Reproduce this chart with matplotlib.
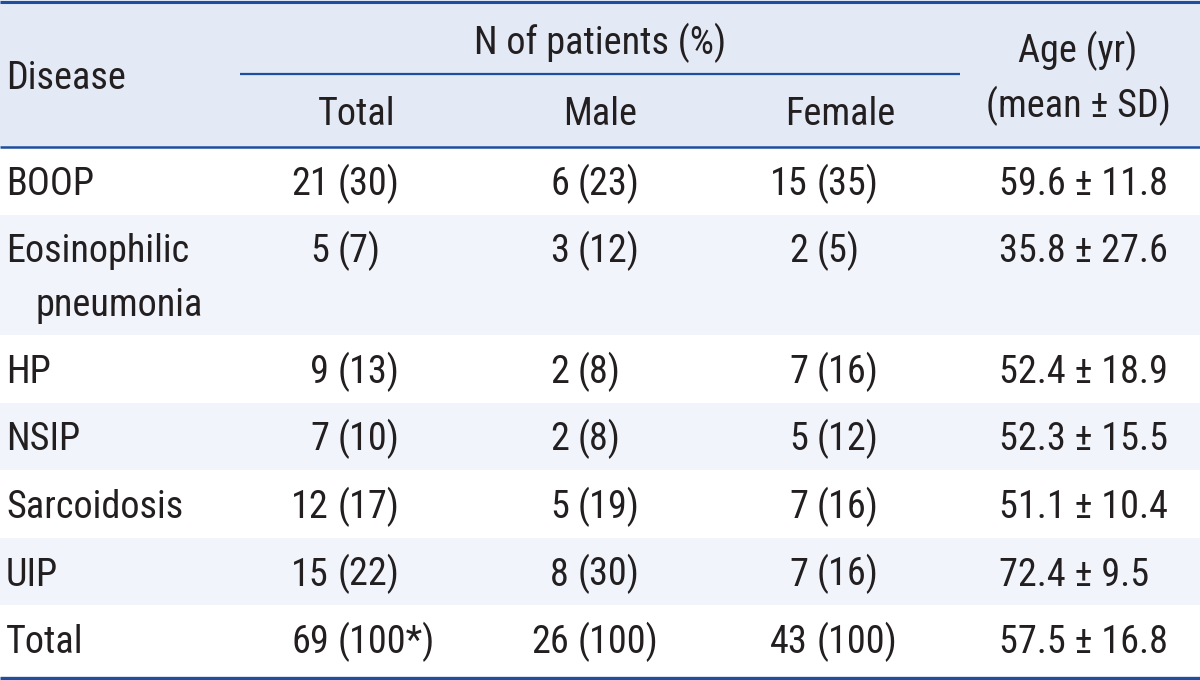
import matplotlib

matplotlib.use("Agg")
import matplotlib.pyplot as plt
from matplotlib.patches import Rectangle

# table content
diseases = ["BOOP", "Eosinophilic\npneumonia", "HP", "NSIP", "Sarcoidosis", "UIP", "Total"]
total_n = ["21", "5", "9", "7", "12", "15", "69"]
total_pct = ["(30)", "(7)", "(13)", "(10)", "(17)", "(22)", "(100*)"]
male_n = ["6", "3", "2", "2", "5", "8", "26"]
male_pct = ["(23)", "(12)", "(8)", "(8)", "(19)", "(30)", "(100)"]
female_n = ["15", "2", "7", "5", "7", "7", "43"]
female_pct = ["(35)", "(5)", "(16)", "(12)", "(16)", "(16)", "(100)"]
age_mean = ["59.6", "35.8", "52.4", "52.3", "51.1", "72.4", "57.5"]
age_sd = ["11.8", "27.6", "18.9", "15.5", "10.4", "9.5", "16.8"]

sub_headers = ["Total", "Male", "Female"]

W, H = 1200, 680
HEADER_H = 147
ROW_H = 67.5
LINE_H = 53
TEXT = "#231f20"
BLUE = "#1f4e9e"
HEAD_BG = "#e3e9f5"
STRIPE = "#f1f5fb"
FS = 27.5

plt.rcParams["font.family"] = ["Roboto Condensed", "Noto Sans Condensed", "Open Sans Condensed",
                               "Liberation Sans Narrow", "Noto Sans", "DejaVu Sans"]
plt.rcParams["font.stretch"] = "condensed"

fig = plt.figure(figsize=(12, 6.8), dpi=100)
ax = fig.add_axes([0, 0, 1, 1])
ax.set_xlim(0, W)
ax.set_ylim(H, 0)
ax.axis("off")

# header
ax.add_patch(Rectangle((0, 0), W, HEADER_H, color=HEAD_BG, lw=0, zorder=0))
ax.text(6, 89, "Disease", fontsize=FS, color=TEXT, ha="left", va="baseline")
ax.text(600, 54, "N of patients (%)", fontsize=FS, color=TEXT, ha="center", va="baseline")
for label, cx in zip(sub_headers, [357, 600, 840]):
    ax.text(cx, 125, label, fontsize=FS, color=TEXT, ha="center", va="baseline")
ax.text(1078, 62, "Age (yr)", fontsize=FS, color=TEXT, ha="center", va="baseline")
ax.text(1078, 117, "(mean ± SD)", fontsize=FS, color=TEXT, ha="center", va="baseline")

# rows
paren_x = [338, 578, 817]
y = HEADER_H
for i, name in enumerate(diseases):
    n_lines = name.count("\n") + 1
    h = ROW_H + (n_lines - 1) * LINE_H
    if i % 2 == 1:
        ax.add_patch(Rectangle((0, y), W, h, color=STRIPE, lw=0, zorder=0))
    base = y + 48
    for k, part in enumerate(name.split("\n")):
        ax.text(6 if k == 0 else 35, base + k * LINE_H, part, fontsize=FS, color=TEXT,
                ha="left", va="baseline")
    cols = [(total_n[i], total_pct[i]), (male_n[i], male_pct[i]), (female_n[i], female_pct[i])]
    for (num, pct), px in zip(cols, paren_x):
        ax.text(px - 9, base, num, fontsize=FS, color=TEXT, ha="right", va="baseline")
        ax.text(px, base, pct, fontsize=FS, color=TEXT, ha="left", va="baseline")
    ax.text(999, base, f"{age_mean[i]} ± {age_sd[i]}", fontsize=FS, color=TEXT,
            ha="left", va="baseline")
    y += h

# rules
ax.plot([0, W], [1.5, 1.5], color=BLUE, lw=2.2, solid_capstyle="butt")
ax.plot([240, 960], [74, 74], color=BLUE, lw=1.6, solid_capstyle="butt")
ax.plot([0, W], [HEADER_H, HEADER_H], color=BLUE, lw=1.8, solid_capstyle="butt")
ax.plot([0, W], [678, 678], color=BLUE, lw=2.4, solid_capstyle="butt")

fig.savefig("out.png", dpi=100)
